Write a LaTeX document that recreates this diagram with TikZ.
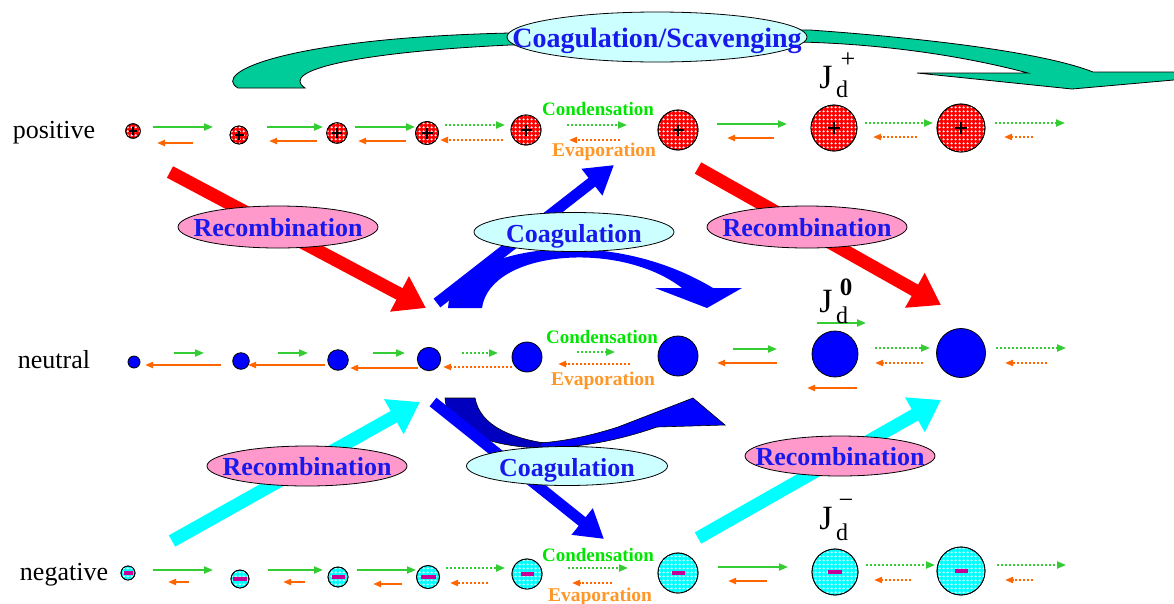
\documentclass[tikz,border=0pt]{standalone}
\usepackage{fontspec}
\setmainfont{Liberation Serif}
\usetikzlibrary{arrows.meta,shapes.geometric,patterns.meta}
\definecolor{gA}{RGB}{51,204,51}
\definecolor{oA}{RGB}{255,102,0}
\definecolor{condG}{RGB}{0,230,0}
\definecolor{evapO}{RGB}{255,150,40}
\definecolor{txtB}{RGB}{25,25,235}
\definecolor{pinkE}{RGB}{255,153,204}
\definecolor{cyanE}{RGB}{204,255,255}
\definecolor{tealA}{RGB}{0,204,153}
\definecolor{navyA}{RGB}{0,0,190}
\definecolor{minusC}{RGB}{200,0,150}
\definecolor{bigC}{RGB}{0,255,255}
\definecolor{bigB}{RGB}{0,0,255}
\definecolor{bigR}{RGB}{255,0,0}
\newcommand\pospart[5]{\node[posP, minimum size=#4pt] (#1) at (#2,#3) {};
  \draw[line width=2.3pt] ([xshift=-#5pt]#1.center) -- ([xshift=#5pt]#1.center)
        ([yshift=-#5pt]#1.center) -- ([yshift=#5pt]#1.center);}
\newcommand\negpart[5]{\node[negP, minimum size=#4pt] (#1) at (#2,#3) {};
  \fill[minusC] ([shift={(-#5pt,-2pt)}]#1.center) rectangle ([shift={(#5pt,2pt)}]#1.center);}
\newcommand\neupart[4]{\node[neuP, minimum size=#4pt] (#1) at (#2,#3) {};}
\begin{document}
\begin{tikzpicture}[x=1pt,y=-1pt,
  gar/.style={gA, line width=2pt, -{Triangle[length=9pt,width=7pt]}},
  oar/.style={oA, line width=2pt, -{Triangle[length=8pt,width=6pt]}},
  gdot/.style={gar, dash pattern=on 2pt off 2pt},
  odot/.style={oar, dash pattern=on 2pt off 2pt},
  bigar/.style={line width=13pt, -{Triangle[length=30pt,width=38pt]}},
  blar/.style={bigB, line width=11pt, -{Triangle[length=28pt,width=32pt]}},
  ellbase/.style={ellipse, draw=black, line width=0.8pt, inner sep=0pt},
  recE/.style={ellbase, fill=pinkE, minimum width=200pt, minimum height=42pt},
  coagE/.style={ellbase, fill=cyanE, minimum width=200pt, minimum height=39pt},
  etxt/.style={anchor=base, text=txtB, font=\fontsize{26}{26}\selectfont\bfseries},
  condT/.style={anchor=base, text=condG, font=\fontsize{19}{19}\selectfont\bfseries},
  evapT/.style={anchor=base, text=evapO, font=\fontsize{19.5}{19.5}\selectfont\bfseries},
  rowT/.style={anchor=base, font=\fontsize{26}{26}\selectfont},
  posP/.style={circle, draw=black, line width=0.8pt, fill=red, inner sep=0pt,
     postaction={pattern={Dots[distance=4pt,radius=1.4pt]}, pattern color=white},
     postaction={draw=black, line width=0.8pt}},
  negP/.style={circle, draw=black, line width=0.8pt, fill=bigC, inner sep=0pt,
     postaction={pattern={Dots[distance=4pt,radius=1.4pt]}, pattern color=white},
     postaction={draw=black, line width=0.8pt}},
  neuP/.style={circle, draw=black, line width=0.8pt, fill=bigB, inner sep=0pt}]
\clip (0,0) rectangle (1174,603);
\fill[white] (0,0) rectangle (1174,603);

% top teal arrow
\filldraw[fill=tealA, draw=black, line width=0.8pt]
  (238,88) .. controls (210,72) and (290,38) .. (510,33) -- (810,30)
  .. controls (950,40) and (1050,55) .. (1093,72) -- (1185,72) -- (1185,79)
  -- (1072,89) -- (917,73) -- (1028,73)
  .. controls (960,55) and (880,44) .. (800,42) -- (510,45)
  .. controls (360,52) and (278,70) .. (305,88) -- cycle;
\node[ellbase, fill=cyanE, minimum width=300pt, minimum height=50pt] (cse) at (657,37) {};
\node[etxt, font=\fontsize{28}{28}\selectfont\bfseries] (cst) at ([yshift=-10pt]cse.center) {Coagulation/Scavenging};

% recombination arrows
\coordinate (r1s) at (170,172); \coordinate (r1e) at (426,308);
\coordinate (r2s) at (698,168); \coordinate (r2e) at (941,305);
\coordinate (c1s) at (172,541); \coordinate (c1e) at (420,402);
\coordinate (c2s) at (698,538); \coordinate (c2e) at (941,400);
\draw[bigar, bigR] (r1s) -- (r1e);
\draw[bigar, bigR] (r2s) -- (r2e);
\draw[bigar, bigC] (c1s) -- (c1e);
\draw[bigar, bigC] (c2s) -- (c2e);
\node[recE] (rec1) at (278,227) {};
\node[etxt] (rec1t) at ([yshift=-9pt]rec1.center) {Recombination};
\node[recE] (rec2) at (807,227) {};
\node[etxt] (rec2t) at ([yshift=-9pt]rec2.center) {Recombination};
\node[recE, minimum height=40pt] (rec3) at (307,466) {};
\node[etxt] (rec3t) at ([yshift=-9pt]rec3.center) {Recombination};
\node[recE, minimum width=190pt, minimum height=40pt] (rec4) at (840,456) {};
\node[etxt] (rec4t) at ([yshift=-9pt]rec4.center) {Recombination};

% coagulation curved arrows
\fill[bigB] (448,308) .. controls (450,250) and (600,220) .. (713,288) -- (742,288)
  -- (707,308) -- (655,288) -- (682,288) .. controls (620,240) and (490,250) .. (482,308) -- cycle;
\filldraw[fill=navyA, draw=black, line width=0.6pt] (445,398) -- (475,398)
  .. controls (480,425) and (510,440) .. (560,445) -- (560,448)
  .. controls (500,450) and (447,435) .. (445,398) -- cycle;
\filldraw[fill=bigB, draw=black, line width=0.6pt] (540,448) .. controls (580,448) and (620,440) .. (657,427)
  -- (725,425) -- (693,398) -- (618,427) .. controls (590,436) and (565,441) .. (540,443) -- cycle;
\coordinate (b1s) at (437,303); \coordinate (b1e) at (614,165);
\coordinate (b2s) at (433,402); \coordinate (b2e) at (604,539);
\draw[blar] (b1s) -- (b1e);
\draw[blar] (b2s) -- (b2e);
\node[coagE] (co1) at (574,232) {};
\node[etxt] (co1t) at ([yshift=-10pt]co1.center) {Coagulation};
\node[coagE, minimum width=201pt] (co2) at (567,466) {};
\node[etxt] (co2t) at ([yshift=-10pt]co2.center) {Coagulation};

% row labels
\node[rowT] (lpos) at (54,138) {positive};
\node[rowT] (lneu) at (54,368) {neutral};
\node[rowT] (lneg) at (64,580) {negative};

% positive row
\pospart{p1}{133}{131}{14.6}{4}
\pospart{p2}{239}{135}{18}{4.5}
\pospart{p3}{337}{133}{20.6}{5}
\pospart{p4}{427}{133}{23}{5.5}
\pospart{p5}{526}{130}{30}{5.5}
\pospart{p6}{678}{130}{40}{5.5}
\pospart{p7}{834}{128}{46}{6}
\pospart{p8}{961}{128}{48}{6}
\draw[gar] (153,127) -- (213,127);  \draw[oar] (193,143) -- (157,143);
\draw[gar] (267,127) -- (323,127);  \draw[oar] (317,141) -- (269,141);
\draw[gar] (355,127) -- (415,127);  \draw[oar] (406,141) -- (358,141);
\draw[gdot] (445,125) -- (505,125); \draw[odot] (503,140) -- (440,140);
\draw[gdot] (567,125) -- (627,125); \draw[odot] (620,140) -- (569,140);
\draw[gar] (717,124) -- (787,124);  \draw[oar] (774,138) -- (727,138);
\draw[gdot] (865,123) -- (933,123); \draw[odot] (917,137) -- (873,137);
\draw[gdot] (995,123) -- (1065,123); \draw[odot] (1033,137) -- (1004,137);
\node[condT] (cond1) at (598,115) {Condensation};
\node[evapT] (evap1) at (604,156) {Evaporation};

% neutral row
\neupart{n1}{134}{362}{12}
\neupart{n2}{241}{361}{16.6}
\neupart{n3}{338}{360}{20.6}
\neupart{n4}{429}{359}{23.4}
\neupart{n5}{527}{357}{30}
\neupart{n6}{678}{356}{40}
\neupart{n7}{835}{354}{46}
\neupart{n8}{961}{353}{49}
\draw[gar] (174,353) -- (204,353); \draw[oar] (221,365) -- (145,365);
\draw[gar] (278,353) -- (308,353); \draw[oar] (325,365) -- (248,365);
\draw[gar] (373,353) -- (405,353); \draw[oar] (418,368) -- (350,368);
\draw[gdot] (462,353) -- (498,353); \draw[odot] (512,367) -- (443,367);
\draw[gdot] (577,352) -- (615,352); \draw[odot] (630,364) -- (558,364);
\draw[gar] (733,349) -- (777,349); \draw[oar] (777,363) -- (717,363);
\draw[gar] (817,323) -- (866,323); \draw[oar] (857,388) -- (807,388);
\draw[gdot] (875,348) -- (930,348); \draw[odot] (923,363) -- (875,363);
\draw[gdot] (996,348) -- (1066,348); \draw[odot] (1047,363) -- (1005,363);
\node[condT] (cond2) at (602,343) {Condensation};
\node[evapT] (evap2) at (603,385) {Evaporation};

% negative row
\negpart{m1}{128}{573}{14}{4.5}
\negpart{m2}{240}{579}{18}{7}
\negpart{m3}{338}{577}{20}{6.5}
\negpart{m4}{428}{577}{23}{7.5}
\negpart{m5}{527}{574}{30}{6.5}
\negpart{m6}{678}{573}{40}{6.5}
\negpart{m7}{835}{572}{46}{7}
\negpart{m8}{961}{571}{48}{6.5}
\draw[gar] (153,570) -- (213,570); \draw[oar] (189,582) -- (168,582);
\draw[gar] (268,570) -- (323,570); \draw[oar] (305,582) -- (283,582);
\draw[gar] (357,570) -- (416,570); \draw[oar] (402,584) -- (373,584);
\draw[gdot] (446,568) -- (505,568); \draw[odot] (488,583) -- (450,583);
\draw[gdot] (568,568) -- (628,568); \draw[odot] (612,583) -- (572,583);
\draw[gar] (718,567) -- (788,567); \draw[oar] (767,581) -- (728,581);
\draw[gdot] (866,565) -- (935,565); \draw[odot] (911,580) -- (874,580);
\draw[gdot] (997,565) -- (1066,565); \draw[odot] (1033,580) -- (1005,580);
\node[condT] (cond3) at (598,561) {Condensation};
\node[evapT] (evap3) at (600,601) {Evaporation};

% J labels
\node[anchor=base, font=\fontsize{34}{34}\selectfont] (J1) at (826,88) {J};
\node[anchor=base, font=\fontsize{24}{24}\selectfont] (d1) at (842,97) {d};
\node[anchor=base, font=\fontsize{26}{26}\selectfont] (s1) at (848,67) {+};
\node[anchor=base, font=\fontsize{34}{34}\selectfont] (J2) at (826,312) {J};
\node[anchor=base, font=\fontsize{24}{24}\selectfont] (d2) at (842,323) {d};
\node[anchor=base, font=\fontsize{25}{25}\selectfont\bfseries] (s2) at (846,295) {0};
\node[anchor=base, font=\fontsize{34}{34}\selectfont] (J3) at (826,529) {J};
\node[anchor=base, font=\fontsize{24}{24}\selectfont] (d3) at (842,540) {d};
\node[anchor=base, font=\fontsize{26}{26}\selectfont] (s3) at (846,508) {−};
\end{tikzpicture}
\end{document}
